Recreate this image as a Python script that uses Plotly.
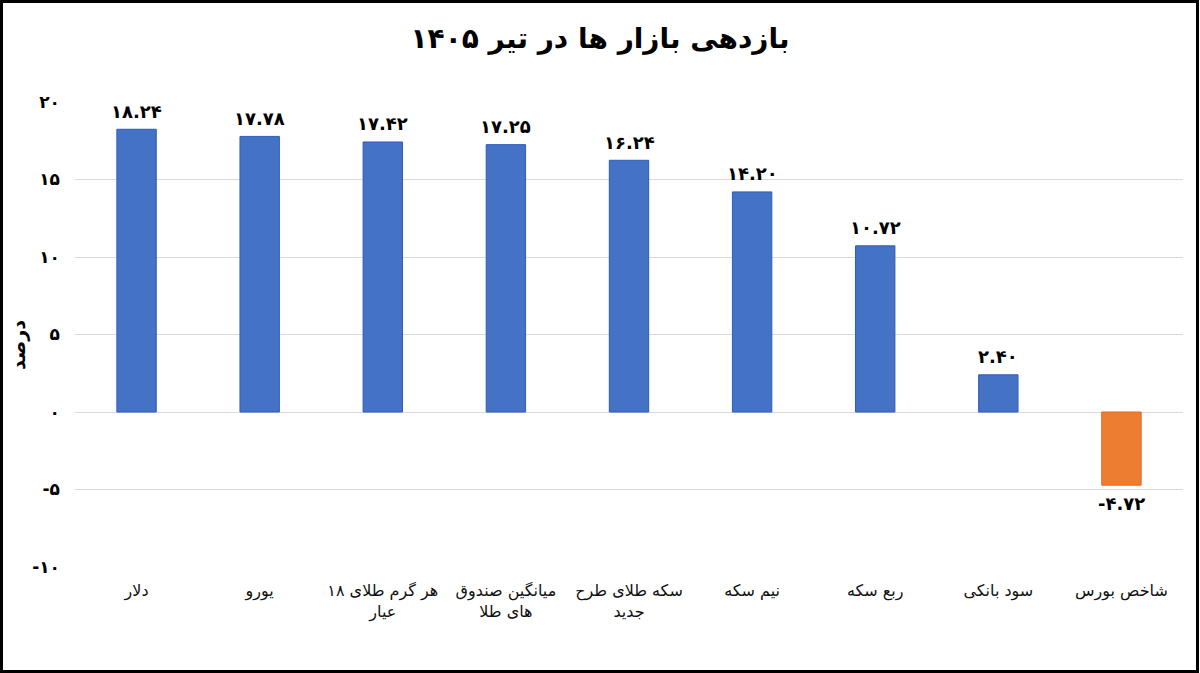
import plotly.graph_objects as go

categories = [
    "دلار",
    "یورو",
    "هر گرم طلای ۱۸<br>عیار",
    "میانگین صندوق<br>های طلا",
    "سکه طلای طرح<br>جدید",
    "نیم سکه",
    "ربع سکه",
    "سود بانکی",
    "شاخص بورس",
]
values = [18.24, 17.78, 17.42, 17.25, 16.24, 14.20, 10.72, 2.40, -4.72]
tick_values = [-10, -5, 0, 5, 10, 15, 20]
tick_labels = ["-۱۰", "-۵", "۰", "۵", "۱۰", "۱۵", "۲۰"]
title_text = "بازدهی بازار ها در تیر ۱۴۰۵"
y_title = "درصد"

FA = str.maketrans("0123456789", "۰۱۲۳۴۵۶۷۸۹")


def fa_num(v):
    return f"{v:.2f}".translate(FA)


colors = ["#4472C4" if v >= 0 else "#ED7D31" for v in values]
edges = ["#2F5BBE" if v >= 0 else "#E8651C" for v in values]

FONT = "DejaVu Sans"

fig = go.Figure(
    go.Bar(
        x=categories,
        y=values,
        marker=dict(color=colors, line=dict(color=edges, width=1)),
        hoverinfo="skip",
    )
)

L, R, T, B = 75, 17, 102, 106
W, H = 1200, 673
pw, ph = W - L - R, H - T - B

annotations = [
    dict(
        x=c,
        y=v,
        xref="x",
        yref="y",
        text=fa_num(v),
        showarrow=False,
        yanchor="middle",
        yshift=18 if v >= 0 else -18,
        font=dict(family=FONT, size=18, color="#000000", weight="bold"),
    )
    for c, v in zip(categories, values)
]
annotations.append(
    dict(
        text=y_title,
        xref="paper",
        yref="paper",
        x=(18 - L) / pw,
        y=(H - B - 345) / ph,
        xanchor="center",
        yanchor="middle",
        textangle=-90,
        showarrow=False,
        font=dict(family=FONT, size=19, color="#000000", weight="bold"),
    )
)

fig.update_layout(
    width=W,
    height=H,
    margin=dict(l=L, r=R, t=T, b=B),
    paper_bgcolor="white",
    plot_bgcolor="white",
    bargap=0.68,
    showlegend=False,
    font=dict(family=FONT, color="#000000"),
    title=dict(
        text=title_text,
        x=0.5,
        xanchor="center",
        y=1 - 38 / H,
        yanchor="middle",
        font=dict(family=FONT, size=28, color="#000000", weight="bold"),
    ),
    xaxis=dict(
        showgrid=False,
        showline=False,
        ticks="",
        tickfont=dict(family=FONT, size=16, color="#111111"),
        ticklabelstandoff=12,
    ),
    yaxis=dict(
        range=[-10, 20],
        tickvals=tick_values,
        ticktext=tick_labels,
        showgrid=True,
        gridcolor="#D9D9D9",
        gridwidth=1,
        zeroline=False,
        showline=False,
        ticks="",
        tickfont=dict(family=FONT, size=17, color="#000000", weight="bold"),
        ticklabelstandoff=14,
    ),
    annotations=annotations,
    shapes=[
        dict(
            type="rect",
            xref="paper",
            yref="paper",
            x0=(1.5 - L) / pw,
            x1=(W - 2.5 - L) / pw,
            y0=(1.5 - B) / ph,
            y1=(H - 1.5 - B) / ph,
            line=dict(color="#000000", width=3),
            fillcolor="rgba(0,0,0,0)",
            layer="above",
        )
    ],
)

fig.write_html("out.html")
